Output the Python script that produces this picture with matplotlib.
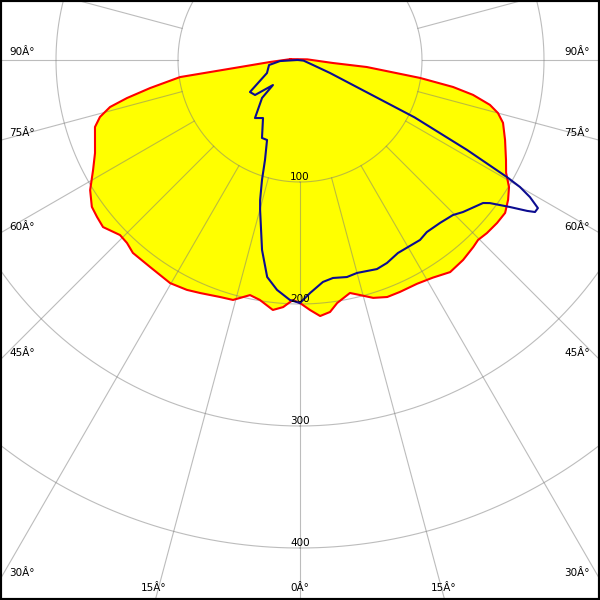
import numpy as np
import matplotlib.pyplot as plt
from matplotlib.patches import Rectangle

# Intensity distribution (cd/klm), angle from nadir, left side negative
red_angles = [-95, -86.2, -83.3, -81.9, -79.4, -77.6, -76.1, -74.1, -71.9, -65.6, -62,
              -58.2, -54.8, -52.3, -49.7, -45.8, -43.4, -40.9, -35.9, -30.2, -26.2,
              -23.2, -18.6, -15.6, -12, -9.5, -6.2, -3.9, -1.7, 0, 2.3,
              4.5, 6.8, 8.7, 12.1, 14.3, 17.1, 20.2, 23.3, 27.6, 31.4,
              35.3, 39.2, 42.8, 44.7, 47.2, 50.4, 53.3, 56.1, 58.7, 61.3,
              64.1, 68.7, 72.8, 75, 76.7, 78.6, 80, 81.5, 84, 84.8, 95]
red_cd = [8, 24.6, 49.5, 99.3, 125, 145.2, 160.4, 170.5, 176.8, 184.5, 192.1,
          202.4, 208.8, 210.3, 211.7, 205.8, 206.4, 209.2, 209.5, 211.6, 210,
          207.8, 205, 204.2, 197, 199.4, 206.1, 203, 196.8, 199.2, 205.1,
          210.5, 208, 201.5, 195.3, 198.8, 204, 207, 207, 207, 209,
          213, 211.5, 209, 207.5, 208.8, 209.6, 209.7, 205.5, 200.5, 192.6,
          187.7, 180.4, 174.2, 168, 160, 144.7, 127.4, 99.5, 55, 27, 6]

blue_angles = [-90, -87, -80.8, -68.5, -57.4, -52.1, -47.2, -45, -37.8, -32.5,
               -26, -22.4, -19.3, -17.6, -15.9, -14.9, -11.3, -8.6, -5.7, -2.4,
               0, 2.5, 5.9, 8.6, 12.2, 15, 20.2, 23.2, 26.9, 33.7,
               36.4, 40.7, 44.6, 47, 52, 53, 55, 56.4, 57.1, 58.1,
               59.2, 60, 60.5, 61.7, 63.4, 66.6, 69, 80]
blue_cd = [2, 16.4, 25.7, 29.1, 48.7, 46.7, 30.2, 44, 60.2, 56.4,
           71.1, 70.9, 86.8, 103, 119.3, 127.2, 158.8, 179.9, 189.4, 196.9,
           199.2, 191.1, 182.9, 180.7, 182, 180.7, 182.6, 181, 177.4, 177.3,
           175.2, 176.1, 178.5, 182.7, 190.4, 194.9, 210.1, 223.5, 229.4, 229.7,
           219.4, 208.2, 194.9, 155.5, 105, 26.8, 11.4, 3]

ring_values = [100, 200, 300, 400]
ring_labels = ['100', '200', '300', '400']

side_labels = ['90Â°', '75Â°', '60Â°', '45Â°', '30Â°']
side_label_y = [52, 133, 227, 353, 573]
bottom_labels = ['15Â°', '0Â°', '15Â°']
bottom_label_x = [154, 300, 444]

# geometry: pole at (300, 60) px, 1.22 px per cd/klm
W = 600
px_per_unit = 1.22
rmax = 540
R = rmax * px_per_unit
cx, cy = 300, 60

fig = plt.figure(figsize=(6, 6), dpi=100)
ax = fig.add_axes([(cx - R) / W, (W - cy - R) / W, 2 * R / W, 2 * R / W],
                  projection='polar')
ax.set_theta_zero_location('S')
ax.set_theta_direction(1)
ax.set_ylim(0, rmax)
ax.set_axis_off()

# filled distribution
ax.fill(np.radians(red_angles), red_cd, color='#ffff00', lw=0, zorder=1)

# grid
grid_kw = dict(color='#7a7a7a', alpha=0.5, lw=0.8, zorder=2)
full = np.linspace(0, 2 * np.pi, 721)
for r in ring_values:
    ax.plot(full, np.full_like(full, r), **grid_kw)
for a in range(0, 360, 15):
    t = np.radians(a)
    ax.plot([t, t], [100, rmax], **grid_kw)

# curves
rt = np.radians(red_angles + red_angles[:1])
ax.plot(rt, red_cd + red_cd[:1], color='#ff0000', lw=1.5, zorder=3)
bt = np.radians(blue_angles + blue_angles[:1])
ax.plot(bt, blue_cd + blue_cd[:1], color='#0c0c90', lw=1.5, zorder=4)

# ring labels
for r, lab in zip(ring_values, ring_labels):
    ax.text(0, r, lab, ha='center', va='bottom', fontsize=7.5, zorder=5)

# angle labels along the frame
for lab, y in zip(side_labels, side_label_y):
    fig.text(9 / W, 1 - y / W, lab, ha='left', va='center', fontsize=7.5)
    fig.text(590 / W, 1 - y / W, lab, ha='right', va='center', fontsize=7.5)
for lab, x in zip(bottom_labels, bottom_label_x):
    fig.text(x / W, 1 - 588 / W, lab, ha='center', va='center', fontsize=7.5)

fig.patches.append(Rectangle((0, 0), 1, 1, transform=fig.transFigure,
                             fill=False, ec='black', lw=3))

fig.savefig('out.png', dpi=100)
